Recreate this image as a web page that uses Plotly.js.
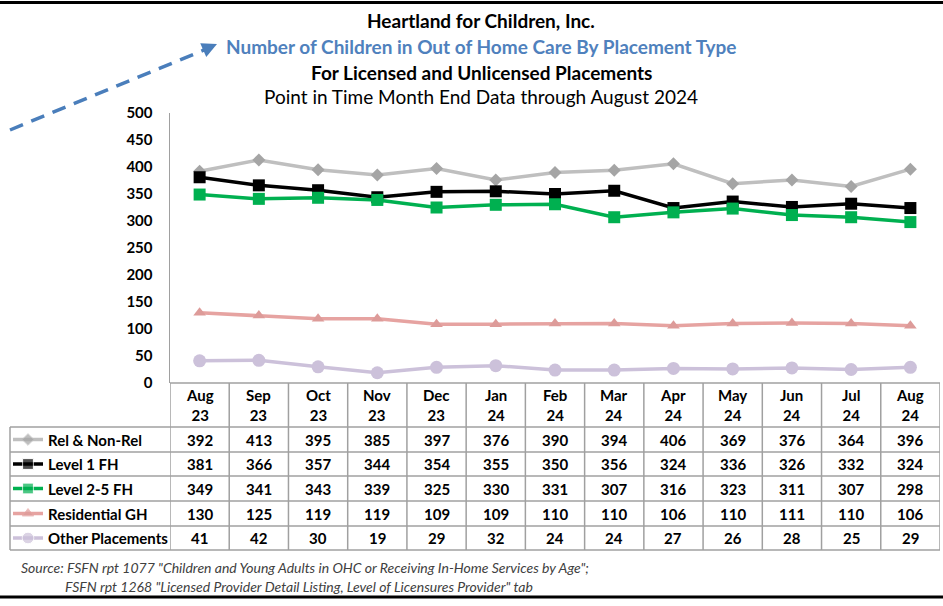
<!DOCTYPE html>
<html>
<head>
<meta charset="utf-8">
<script src="https://cdn.plot.ly/plotly-3.0.1.min.js"></script>
<style>html,body{margin:0;padding:0;background:#fff;}#chart{width:943px;height:606px;}</style>
</head>
<body>
<div id="chart"></div>
<script>
// ---- data ----
const months = ["Aug","Sep","Oct","Nov","Dec","Jan","Feb","Mar","Apr","May","Jun","Jul","Aug"];
const years  = ["23","23","23","23","23","24","24","24","24","24","24","24","24"];
const seriesNames = ["Rel & Non-Rel","Level 1 FH","Level 2-5 FH","Residential GH","Other Placements"];
const relNonRel       = [392,413,395,385,397,376,390,394,406,369,376,364,396];
const level1FH        = [381,366,357,344,354,355,350,356,324,336,326,332,324];
const level25FH       = [349,341,343,339,325,330,331,307,316,323,311,307,298];
const residentialGH   = [130,125,119,119,109,109,110,110,106,110,111,110,106];
const otherPlacements = [41,42,30,19,29,32,24,24,27,26,28,25,29];
const yTicks = [0,50,100,150,200,250,300,350,400,450,500];
const titleLines = ["Heartland for Children, Inc.",
  "Number of Children in Out of Home Care By Placement Type",
  "For Licensed and Unlicensed Placements",
  "Point in Time Month End Data through August 2024"];
const sourceLines = ["Source: FSFN rpt 1077 \"Children and Young Adults in OHC or Receiving In-Home Services by Age\";",
  "FSFN rpt 1268 \"Licensed Provider Detail Listing, Level of Licensures Provider\" tab"];

// ---- styles ----
const W = 943, H = 606;
const FONT = "Lato, 'Open Sans', sans-serif";
const values = [relNonRel, level1FH, level25FH, residentialGH, otherPlacements];
const styles = [
  {line:"#bfbfbf", marker:"#a5a5a5", symbol:"diamond", size:10},
  {line:"#000000", marker:"#000000", symbol:"square", size:12},
  {line:"#00b050", marker:"#00b050", symbol:"square", size:12},
  {line:"#e6a3a1", marker:"#dd9b99", symbol:"triangle-up", size:11},
  {line:"#ccc1da", marker:"#ccc1da", symbol:"circle", size:13}
];
const categories = months.map((m,i)=>m+" "+years[i]);

const plotL = 170, plotR = 940, plotT = 113, plotB = 383;
const rowEdges = [427, 452, 476, 501, 526, 550];
const gridColor = "#a0a0a0";
const TFS = 15;

const traces = [];
values.forEach((v,i)=>{
  traces.push({type:"scatter", mode:"lines+markers", x:categories, y:v, name:seriesNames[i],
    xaxis:"x", yaxis:"y", cliponaxis:false,
    line:{color:styles[i].line, width:3.5},
    marker:{color:styles[i].marker, symbol:styles[i].symbol, size:styles[i].size},
    showlegend:false, hoverinfo:"skip"});
});
// legend keys in the table (helper pixel axes)
values.forEach((v,i)=>{
  const yc = (rowEdges[i]+rowEdges[i+1])/2;
  traces.push({type:"scatter", mode:"lines+markers", x:[13,28,43], y:[yc,yc,yc],
    xaxis:"x2", yaxis:"y2", cliponaxis:false,
    line:{color:styles[i].line, width:3.5},
    marker:{color:styles[i].marker, symbol:styles[i].symbol, size:[0, styles[i].size*0.9, 0]},
    showlegend:false, hoverinfo:"skip"});
});

const shapes = [];
const ann = [];
function hline(x0,x1,y,color,w,ref){shapes.push({type:"line",xref:ref||"x2",yref:"y2",x0:x0,x1:x1,y0:y,y1:y,line:{color:color,width:w}});}
// top/bottom borders
hline(0,W,2.5,"#000",3);
hline(0,W,597,"#000",3);
// dashed arrow
shapes.push({type:"line",xref:"x2",yref:"y2",x0:10,y0:130,x1:204,y1:50,line:{color:"#4a7ebb",width:3.5,dash:"14px,9px"}});
ann.push({xref:"x2",yref:"y2",axref:"x2",ayref:"y2",x:217,y:44,ax:201,ay:51,text:"",showarrow:true,
  arrowhead:2,arrowsize:1,arrowwidth:3,arrowcolor:"#4a7ebb"});
// table grid
hline(-0.5,12.5,plotB,gridColor,1.5,"x");
rowEdges.forEach(y=>hline(10,plotR,y,gridColor,1.5));
shapes.push({type:"line",xref:"x2",yref:"y2",x0:10,x1:10,y0:rowEdges[0],y1:rowEdges[5],line:{color:gridColor,width:1.5}});
for(let k=0;k<=categories.length;k++){
  shapes.push({type:"line",xref:"x",yref:"y2",x0:k-0.5,x1:k-0.5,y0:plotB,y1:rowEdges[5],line:{color:gridColor,width:1.5}});
}
// header labels
categories.forEach((c,i)=>{
  ann.push({xref:"x",yref:"y2",x:c,y:405,text:"<b>"+months[i]+"<br>"+years[i]+"</b>",showarrow:false,
    font:{family:FONT,size:TFS,color:"#000"},align:"center"});
});
// row labels and values
seriesNames.forEach((n,i)=>{
  const yc = (rowEdges[i]+rowEdges[i+1])/2;
  ann.push({xref:"x2",yref:"y2",x:46,y:yc,xanchor:"left",text:"<b>"+n+"</b>",showarrow:false,
    font:{family:FONT,size:TFS,color:"#000"}});
  values[i].forEach((v,j)=>{
    ann.push({xref:"x",yref:"y2",x:categories[j],y:yc,text:"<b>"+v+"</b>",showarrow:false,
      font:{family:FONT,size:TFS,color:"#000"}});
  });
});
// titles
const tStyles = [
  {y:20,size:19,color:"#000",bold:true},
  {y:46,size:19,color:"#4f81bd",bold:true},
  {y:72,size:19,color:"#000",bold:true},
  {y:96,size:19,color:"#000",bold:false}];
titleLines.forEach((t,i)=>{
  const s = tStyles[i];
  ann.push({xref:"x2",yref:"y2",x:481,y:s.y,text:s.bold?"<b>"+t+"</b>":t,showarrow:false,
    font:{family:FONT,size:s.size,color:s.color}});
});
// source
ann.push({xref:"x2",yref:"y2",x:19,y:567,xanchor:"left",text:"<i>"+sourceLines[0]+"</i>",showarrow:false,
  font:{family:FONT,size:14,color:"#404040"}});
ann.push({xref:"x2",yref:"y2",x:63,y:586,xanchor:"left",text:"<i>"+sourceLines[1]+"</i>",showarrow:false,
  font:{family:FONT,size:14,color:"#404040"}});

const layout = {
  width:W, height:H, margin:{l:0,r:0,t:0,b:0,pad:0},
  paper_bgcolor:"#fff", plot_bgcolor:"rgba(0,0,0,0)", showlegend:false,
  xaxis:{domain:[plotL/W, plotR/W], type:"category", categoryorder:"array", categoryarray:categories,
    range:[-0.5,12.5], showticklabels:false, showgrid:false, zeroline:false, showline:false, ticks:"", fixedrange:true, anchor:"y"},
  yaxis:{domain:[(H-plotB)/H,(H-plotT)/H], range:[0,500], tickvals:yTicks, ticktext:yTicks.map(v=>"<b>"+v+"</b>"),
    tickfont:{family:FONT,size:15,color:"#000"}, showgrid:false, zeroline:false, showline:true,
    linecolor:gridColor, linewidth:1.5, ticks:"", ticklabelstandoff:13, fixedrange:true, anchor:"x"},
  xaxis2:{domain:[0,1], range:[0,W], visible:false, fixedrange:true, anchor:"y2"},
  yaxis2:{domain:[0,1], range:[H,0], visible:false, fixedrange:true, anchor:"x2"},
  shapes:shapes, annotations:ann
};
Plotly.newPlot("chart", traces, layout, {displayModeBar:false, staticPlot:true});
</script>
</body>
</html>
